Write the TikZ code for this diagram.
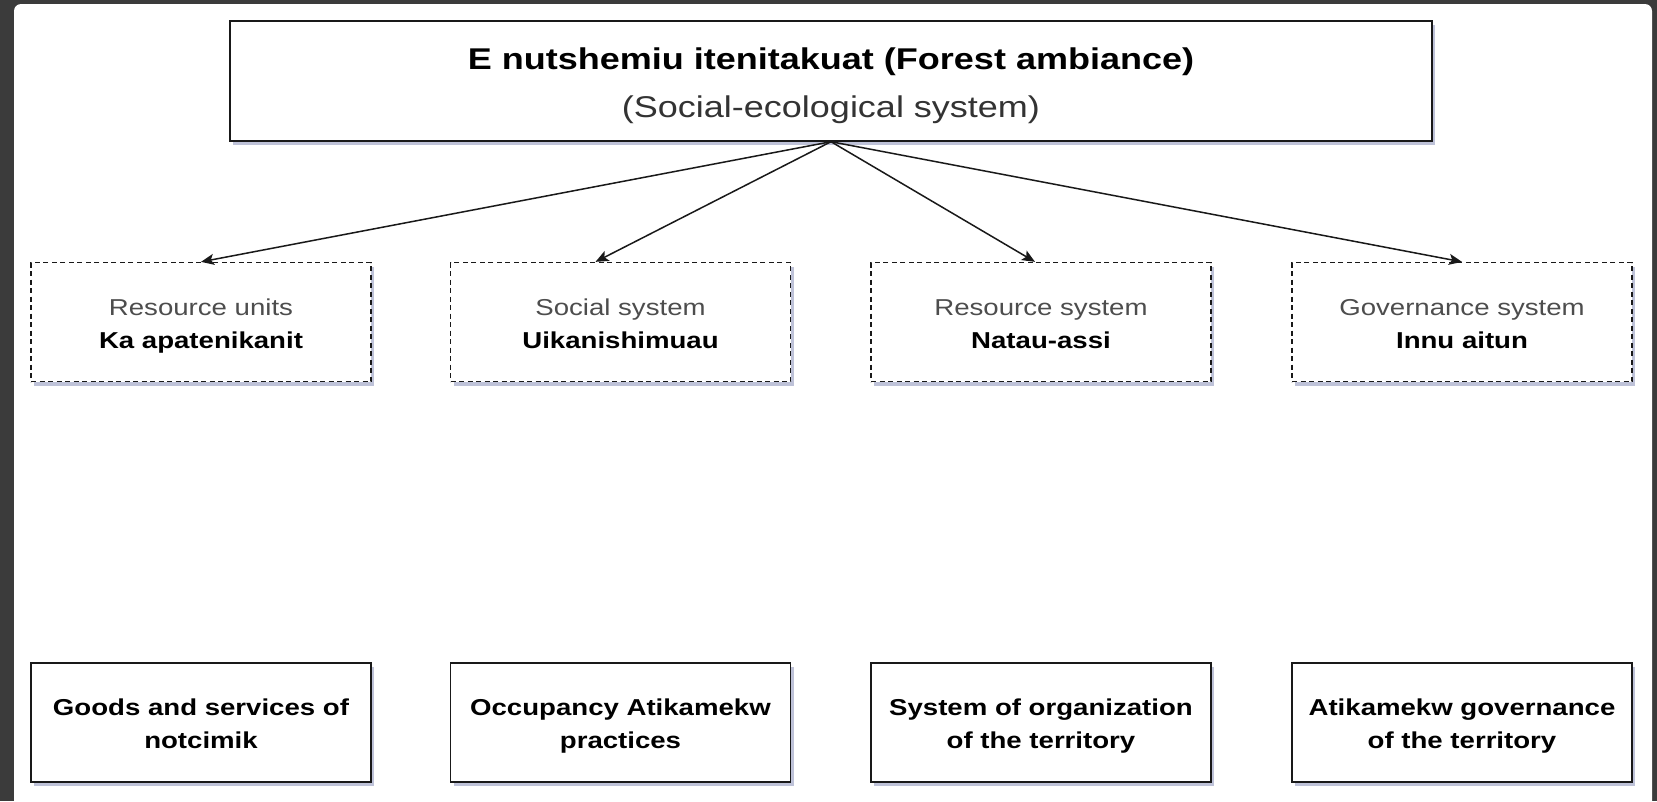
\documentclass[tikz,border=0pt]{standalone}
\usepackage{fontspec}
\setmainfont{Liberation Sans}[FakeStretch=1.2]
\usepackage{xcolor}
\usepackage{tikz}
\usetikzlibrary{arrows.meta, shadows}
\definecolor{panelbg}{HTML}{3B3B3B}
\definecolor{shade}{HTML}{A9AECB}
\definecolor{softtext}{HTML}{4D4D4D}
\newcommand\histrut{\rule[-0.3\baselineskip]{0pt}{\dimexpr\baselineskip+6pt\relax}}

\begin{document}
\begin{tikzpicture}[x=1pt, y=-1pt,
  box/.style={rectangle, draw=black!90, line width=1.4pt, fill=white, align=center, inner sep=0pt,
    minimum width=340pt, minimum height=119pt, font=\fontsize{23}{33}\selectfont\bfseries,
    drop shadow={shadow xshift=3pt, shadow yshift=-4pt, fill=shade, opacity=0.75}},
  dashbox/.style={box, line width=1.3pt, dash pattern=on 5pt off 3.5pt, font=\fontsize{23}{33}\selectfont},
  titlebox/.style={box, minimum width=1202pt, minimum height=120pt, font=\fontsize{30}{48}\selectfont},
  arrow/.style={draw=black!90, line width=1.5pt, -{Stealth[length=13pt, width=11pt, inset=3pt]}}]
   \useasboundingbox (0,0) rectangle (1657,801);
   \fill[panelbg] (0,0) rectangle (1657,801);
   \fill[white] (14,801) [rounded corners=7pt] -- (14,4) -- (1652,4) [sharp corners] -- (1652,801) -- cycle;

   \node[titlebox] (E) at (831,81) {\histrut\textbf{E nutshemiu itenitakuat (Forest ambiance)}\\\strut{\color{black!80}(Social-ecological system)}};

   \node[dashbox] (RU) at (201,322) {\histrut{\color{softtext}Resource units}\\\strut\textbf{Ka apatenikanit}};
   \node[dashbox] (SS) at (620.5,322) {\histrut{\color{softtext}Social system}\\\strut\textbf{Uikanishimuau}};
   \node[dashbox] (RS) at (1041,322) {\histrut{\color{softtext}Resource system}\\\strut\textbf{Natau-assi}};
   \node[dashbox] (GS) at (1462,322) {\histrut{\color{softtext}Governance system}\\\strut\textbf{Innu aitun}};

   \node[box] (GN) at (201,722.5) {\histrut Goods and services of\\\strut notcimik};
   \node[box] (OP) at (620.5,722.5) {\histrut Occupancy Atikamekw\\\strut practices};
   \node[box] (SO) at (1041,722.5) {\histrut System of organization\\\strut of the territory};
   \node[box] (AG) at (1462,722.5) {\histrut Atikamekw governance\\\strut of the territory};

   \draw[arrow] (E.south) -- (RU.north);
   \draw[arrow] (E.south) -- ([xshift=-25pt]SS.north);
   \draw[arrow] (E.south) -- ([xshift=-6pt]RS.north);
   \draw[arrow] (E.south) -- (GS.north);
\end{tikzpicture}
\end{document}
